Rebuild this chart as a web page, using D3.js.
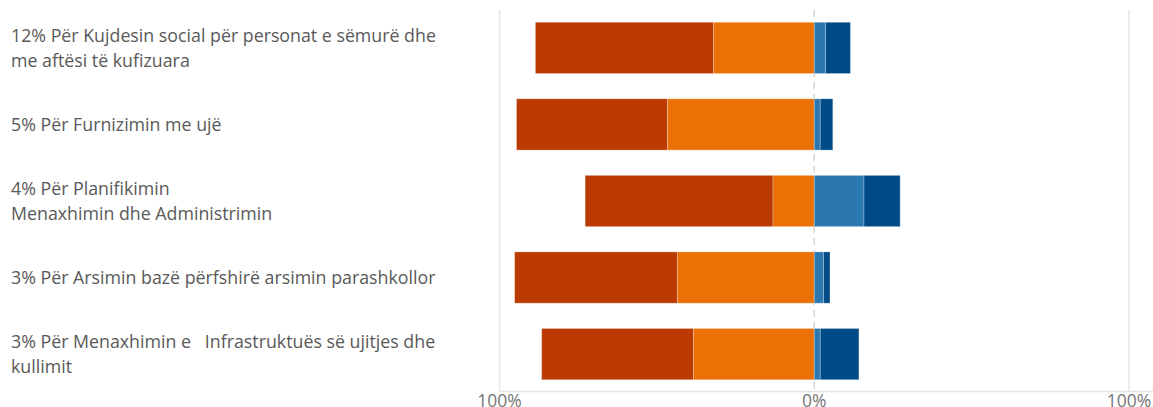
<!DOCTYPE html>
<html>
<head>
<meta charset="utf-8">
<script src="https://cdn.jsdelivr.net/npm/d3@7"></script>
<style>
body { margin: 0; background: #fff; }
text { font-family: "Open Sans", "Noto Sans", sans-serif; }
</style>
</head>
<body>
<svg id="chart"></svg>
<script>
var width = 1153;
var height = 407;

// kategoritë (rreshtat)
var categories = [
    ["12% Për Kujdesin social për personat e sëmurë dhe", "me aftësi të kufizuara"],
    ["5% Për Furnizimin me ujë"],
    ["4% Për Planifikimin", "Menaxhimin dhe Administrimin"],
    ["3% Për Arsimin bazë përfshirë arsimin parashkollor"],
    ["3% Për Menaxhimin e   Infrastruktuës së ujitjes dhe", "kullimit"]
];
// vlerat në përqindje, ana negative dhe pozitive
var darkRed   = [56.6, 48.0, 59.7, 51.7, 48.2];
var orange    = [32.0, 46.6, 13.1, 43.5, 38.4];
var lightBlue = [3.6, 1.9, 15.8, 3.0, 1.9];
var darkBlue  = [7.9, 4.0, 11.5, 2.0, 12.3];
var tickValues = [-100, 0, 100];

var svg = d3.select("#chart")
    .attr("width", width)
    .attr("height", height);

var x = d3.scaleLinear()
    .domain([-100, 100])
    .range([499.5, 1129]);

var y = d3.scaleBand()
    .domain(d3.range(categories.length))
    .range([10, 392])
    .paddingInner(0.33)
    .paddingOuter(0.16);

// vijat e rrjetit
svg.selectAll("line.grid")
    .data(tickValues)
    .enter().append("line")
    .attr("class", "grid")
    .attr("x1", function(d){ return x(d); })
    .attr("x2", function(d){ return x(d); })
    .attr("y1", 10)
    .attr("y2", 391)
    .attr("stroke", function(d){ return d === 0 ? "#d8d8d8" : "#e6e6e6"; })
    .attr("stroke-width", 1.5)
    .attr("stroke-dasharray", function(d){ return d === 0 ? "7,5" : null; });

svg.append("line")
    .attr("x1", x(-100))
    .attr("x2", 1153)
    .attr("y1", 391.5)
    .attr("y2", 391.5)
    .attr("stroke", "#e3e3e3")
    .attr("stroke-width", 1.5);

// segmentet
var rows = categories.map(function(c, i){
    return [
        {x0: -(darkRed[i] + orange[i]), x1: -orange[i], color: "#ba3a02"},
        {x0: -orange[i], x1: 0, color: "#eb7006"},
        {x0: 0, x1: lightBlue[i], color: "#2b78b0"},
        {x0: lightBlue[i], x1: lightBlue[i] + darkBlue[i], color: "#004a85"}
    ].map(function(s){ s.row = i; return s; });
});

svg.selectAll("g.row")
    .data(rows)
    .enter().append("g")
    .attr("class", "row")
    .selectAll("rect")
    .data(function(d){ return d; })
    .enter().append("rect")
    .attr("x", function(d){ return x(d.x0); })
    .attr("width", function(d){ return x(d.x1) - x(d.x0); })
    .attr("y", function(d){ return y(d.row); })
    .attr("height", y.bandwidth())
    .attr("fill", function(d){ return d.color; })
    .attr("stroke", "rgba(255,255,255,0.35)")
    .attr("stroke-width", 0.8);

// etiketat
var labels = svg.selectAll("text.label")
    .data(categories)
    .enter().append("text")
    .attr("class", "label")
    .attr("xml:space", "preserve")
    .attr("fill", "#595959")
    .style("font-size", "17.8px")
    .attr("y", function(d, i){
        return y(i) + y.bandwidth() / 2 - (d.length - 1) * 12.5;
    });

labels.selectAll("tspan")
    .data(function(d){ return d; })
    .enter().append("tspan")
    .attr("x", 11)
    .attr("dy", function(d, j){ return j === 0 ? "0.35em" : 25; })
    .text(function(d){ return d; });

// boshti x
svg.selectAll("text.tick")
    .data(tickValues)
    .enter().append("text")
    .attr("class", "tick")
    .attr("x", function(d){ return x(d); })
    .attr("y", 407)
    .attr("text-anchor", "middle")
    .attr("fill", "#767676")
    .style("font-size", "17.5px")
    .text(function(d){ return Math.abs(d) + "%"; });
</script>
</body>
</html>
